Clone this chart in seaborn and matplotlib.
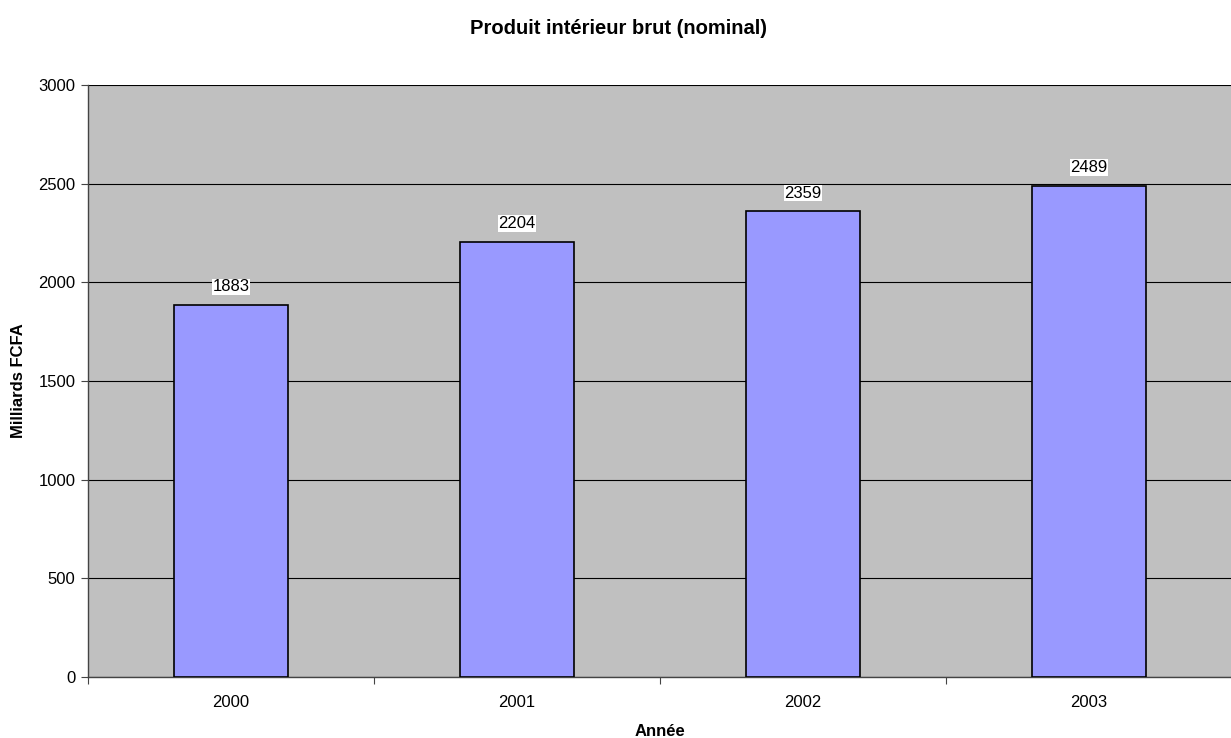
import matplotlib
matplotlib.use("Agg")
import matplotlib.pyplot as plt
import seaborn as sns
import pandas as pd

years = ["2000", "2001", "2002", "2003"]
gdp = [1883, 2204, 2359, 2489]
yticks = [0, 500, 1000, 1500, 2000, 2500, 3000]

sns.set_theme(style="white")
plt.rcParams['font.family'] = ['Liberation Sans', 'DejaVu Sans']
plt.rcParams.update({"text.color": "black", "axes.labelcolor": "black",
                     "xtick.color": "black", "ytick.color": "black"})

W, H = 1231, 738
fig = plt.figure(figsize=(W / 100, H / 100), dpi=100)
ax = fig.add_axes([88 / W, 1 - 677 / H, (1232 - 88) / W, (677 - 85) / H])
ax.set_facecolor("#C0C0C0")

df = pd.DataFrame({"Année": years, "PIB": gdp})
sns.barplot(data=df, x="Année", y="PIB", color="#9999FF", edgecolor="black",
            linewidth=1.2, width=0.40, saturation=1, ax=ax, zorder=3)

ax.set_ylim(0, 3000)
ax.set_xlim(-0.5, 3.5)
ax.set_yticks(yticks)
ax.yaxis.grid(True, color="black", linewidth=0.8, zorder=1)
ax.set_axisbelow(True)

# x ticks at category boundaries, labels at centers
ax.set_xticks([-0.5, 0.5, 1.5, 2.5, 3.5])
ax.set_xticklabels([])
ax.set_xticks(range(len(years)), minor=True)
ax.set_xticklabels(years, minor=True)
ax.tick_params(axis="x", which="major", direction="out", length=5, width=0.8, color="#444444", bottom=True)
ax.tick_params(axis="x", which="minor", length=0, labelsize=12, pad=13, bottom=True, labelcolor="black")
ax.tick_params(axis="y", direction="out", length=5, width=0.8, color="#444444", labelsize=12, left=True, pad=4,
               labelcolor="black")

for s in ["top", "right"]:
    ax.spines[s].set_visible(False)
for s in ["left", "bottom"]:
    ax.spines[s].set_color("#444444")
    ax.spines[s].set_linewidth(1.0)

for i, v in enumerate(gdp):
    ax.annotate(str(v), (i, v), xytext=(0, 13.3), textcoords="offset points",
                ha="center", va="center", fontsize=12, color="black",
                bbox=dict(boxstyle="square,pad=0.05", fc="white", ec="none"), zorder=5)

ax.set_xlabel("Année", fontsize=12, fontweight="bold", labelpad=10, color="black")
ax.set_ylabel("Milliards FCFA", fontsize=12, fontweight="bold", labelpad=9, color="black")
fig.text(619 / W, 1 - 28 / H, "Produit intérieur brut (nominal)", ha="center", va="center",
         fontsize=14.5, fontweight="bold", color="black")

fig.savefig("out.png", dpi=100)
